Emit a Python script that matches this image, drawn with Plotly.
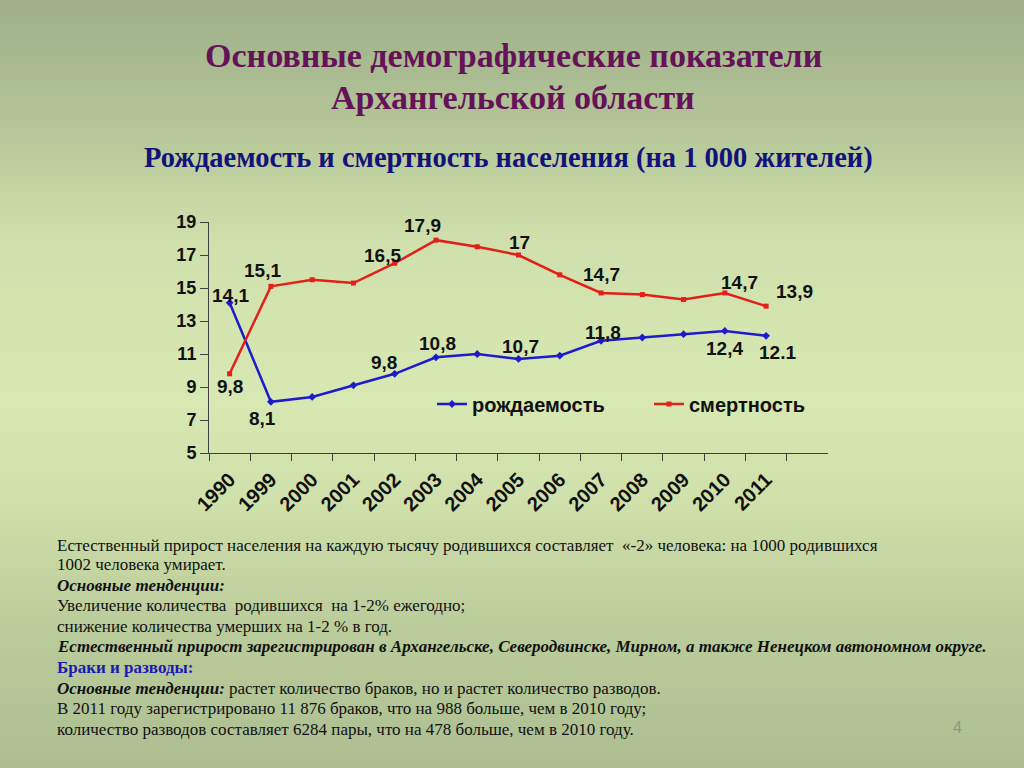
import plotly.graph_objects as go

# ---------------- data ----------------
years = ["1990", "1999", "2000", "2001", "2002", "2003", "2004", "2005",
         "2006", "2007", "2008", "2009", "2010", "2011"]
birth_rate = [14.1, 8.1, 8.4, 9.1, 9.8, 10.8, 11.0, 10.7, 10.9, 11.8, 12.0, 12.2, 12.4, 12.1]
death_rate = [9.8, 15.1, 15.5, 15.3, 16.5, 17.9, 17.5, 17.0, 15.8, 14.7, 14.6, 14.3, 14.7, 13.9]
birth_labels = ["14,1", "8,1", "", "", "9,8", "10,8", "", "10,7", "", "11,8", "", "", "12,4", "12.1"]
death_labels = ["9,8", "15,1", "", "", "16,5", "17,9", "", "17", "", "14,7", "", "", "14,7", "13,9"]
series_names = ["рождаемость", "смертность"]
y_ticks = [5, 7, 9, 11, 13, 15, 17, 19]

title_lines = ["Основные демографические показатели", "Архангельской области"]
subtitle = "Рождаемость и смертность населения (на 1 000 жителей)"
body_lines = [
    "Естественный прирост населения на каждую тысячу родившихся составляет  «-2» человека: на 1000 родившихся",
    "1002 человека умирает.",
    "<b><i>Основные тенденции:</i></b>",
    "Увеличение количества  родившихся  на 1-2% ежегодно;",
    "снижение количества умерших на 1-2 % в год.",
    "<b><i>Естественный прирост зарегистрирован в Архангельске, Северодвинске, Мирном, а также Ненецком автономном округе.</i></b>",
    "<b><span style='color:#1a1ab4'>Браки и разводы:</span></b>",
    "<b><i>Основные тенденции:</i></b> растет количество браков, но и растет количество разводов.",
    "В 2011 году зарегистрировано 11 876 браков, что на 988 больше, чем в 2010 году;",
    "количество разводов составляет 6284 пары, что на 478 больше, чем в 2010 году.",
]
page_number = "4"

# ---------------- layout constants (styles / positions) ----------------
W, H = 1024, 768
L, R, T, B = 209, 1024 - 828, 222, 768 - 453
PW, PH = W - L - R, H - T - B

def pxx(x):
    return (x - L) / PW

def pxy(y):
    return (H - B - y) / PH

BLUE = "#1c1ccc"
RED = "#e21f18"
SANS = "Liberation Sans, Arial, sans-serif"
SERIF = "Liberation Serif, Times New Roman, serif"

birth_offsets = [(1, -7), (-8, 17), (0, 0), (0, 0), (-11, -11), (2, -14), (0, 0), (2, -12),
                 (0, 0), (2, -8), (0, 0), (0, 0), (0, 18), (11, 17)]
death_offsets = [(0, 13), (-8, -16), (0, 0), (0, 0), (-12, -8), (-13, -15), (0, 0), (1, -13),
                 (0, 0), (0, -18), (0, 0), (0, 0), (15, -10), (28, -15)]

fig = go.Figure()
fig.add_trace(go.Scatter(x=years, y=birth_rate, name=series_names[0], mode="lines+markers",
                         line=dict(color=BLUE, width=2.5),
                         marker=dict(symbol="diamond", size=6, color=BLUE)))
fig.add_trace(go.Scatter(x=years, y=death_rate, name=series_names[1], mode="lines+markers",
                         line=dict(color=RED, width=2.5),
                         marker=dict(symbol="square", size=5, color=RED)))

annotations = []
label_font = dict(family=SANS, size=19, color="#111111", weight="bold")
for ys, labs, offs in ((birth_rate, birth_labels, birth_offsets),
                       (death_rate, death_labels, death_offsets)):
    for i, (y, t, (dx, dy)) in enumerate(zip(ys, labs, offs)):
        if t:
            # category axes take the serial index of the category
            annotations.append(dict(x=i, y=y, xref="x", yref="y", text=t, showarrow=False,
                                    xanchor="center", yanchor="middle", xshift=dx, yshift=-dy,
                                    font=label_font))

# titles
for t, y in zip(title_lines, (55, 97)):
    annotations.append(dict(x=pxx(513), y=pxy(y), xref="paper", yref="paper", text="<b>" + t + "</b>",
                            showarrow=False, xanchor="center", yanchor="middle",
                            font=dict(family=SERIF, size=34, color="#651258")))
annotations.append(dict(x=pxx(508), y=pxy(158), xref="paper", yref="paper", text="<b>" + subtitle + "</b>",
                        showarrow=False, xanchor="center", yanchor="middle",
                        font=dict(family=SERIF, size=28.5, color="#12127a")))

body_y = [545, 564, 585, 605, 626, 646, 667, 688, 708, 729]
for t, y in zip(body_lines, body_y):
    annotations.append(dict(x=pxx(55), y=pxy(y), xref="paper", yref="paper", text=t,
                            showarrow=False, xanchor="left", yanchor="middle",
                            font=dict(family=SERIF, size=17, color="#111111")))
annotations.append(dict(x=pxx(957), y=pxy(727), xref="paper", yref="paper", text=page_number,
                        showarrow=False, xanchor="center", yanchor="middle",
                        font=dict(family=SANS, size=16, color="#8a9a82")))

# background gradient bands
stops = [(0, (158, 175, 137)), (130, (180, 198, 152)), (240, (208, 224, 172)),
         (400, (216, 232, 179)), (500, (207, 224, 170)), (620, (188, 205, 156)),
         (768, (172, 190, 145))]

def color_at(y):
    for (y0, c0), (y1, c1) in zip(stops[:-1], stops[1:]):
        if y0 <= y <= y1:
            f = (y - y0) / (y1 - y0)
            return "rgb(%d,%d,%d)" % tuple(round(a + (b - a) * f) for a, b in zip(c0, c1))
    return "rgb(%d,%d,%d)" % stops[-1][1]

shapes = []
step = 8
for y in range(0, H, step):
    shapes.append(dict(type="rect", xref="paper", yref="paper", layer="below",
                       x0=pxx(-2), x1=pxx(W + 2), y0=pxy(y + step + 1), y1=pxy(y),
                       fillcolor=color_at(y + step / 2), line=dict(width=0)))

fig.update_layout(
    width=W, height=H,
    margin=dict(l=L, r=R, t=T, b=B, autoexpand=False),
    paper_bgcolor="rgb(190,206,158)",
    plot_bgcolor="rgba(0,0,0,0)",
    showlegend=True,
    legend=dict(orientation="h", x=pxx(432), y=pxy(404), xanchor="left", yanchor="middle",
                bgcolor="rgba(0,0,0,0)", font=dict(family=SANS, size=20, color="#111111", weight="bold"),
                itemwidth=30, entrywidth=172, entrywidthmode="pixels", tracegroupgap=0),
    xaxis=dict(type="category", categoryorder="array", categoryarray=years,
               range=[-0.5, 14.5], tickson="boundaries", ticks="outside", ticklen=7,
               tickcolor="#404040", showline=True, linecolor="#404040", linewidth=1,
               showgrid=False, zeroline=False, tickangle=-45, ticklabelstandoff=6,
               tickfont=dict(family=SANS, size=20, color="#111111", weight="bold")),
    yaxis=dict(range=[5, 19], tickvals=y_ticks, ticks="outside", ticklen=8,
               tickcolor="#404040", showline=True, linecolor="#404040", linewidth=1,
               showgrid=False, zeroline=False,
               tickfont=dict(family=SANS, size=18, color="#111111", weight="bold")),
    annotations=annotations,
    shapes=shapes,
)

fig.write_html("out.html", config={"displayModeBar": False},
               post_script="document.body.style.margin='0';")
